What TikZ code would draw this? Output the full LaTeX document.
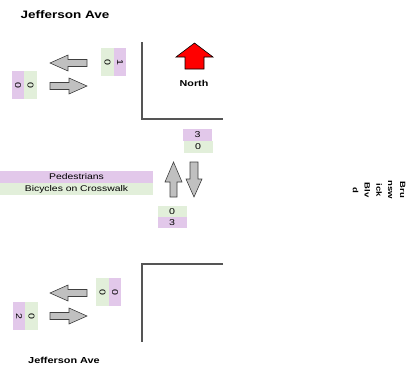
\documentclass[tikz,border=0pt]{standalone}
\usepackage{fontspec}
\setmainfont{Liberation Sans}[FakeStretch=1.25]
\definecolor{lpurple}{HTML}{E2C8EA}
\definecolor{lgreen}{HTML}{E2EFDA}
\definecolor{agray}{HTML}{C0C0C0}
\definecolor{lgray}{HTML}{555555}
\begin{document}
\begin{tikzpicture}[x=1pt,y=-1pt,
  garrow/.style={fill=agray,draw=black!75,line width=0.6pt,line join=miter},
  narrow/.style={fill=red,draw=black,line width=0.6pt},
  corner/.style={draw=lgray,line width=1.4pt},
  vbox/.style={rotate=-90,minimum width=28pt,minimum height=12.5pt,inner sep=0pt,font=\fontsize{8.5}{9}\selectfont},
  hbox/.style={minimum width=29pt,minimum height=11.5pt,inner sep=0pt,font=\fontsize{8.5}{9}\selectfont},
  pbox/.style={fill=lpurple},
  gbox/.style={fill=lgreen},
  wbox/.style={minimum width=153pt,minimum height=12pt,inner sep=0pt,font=\fontsize{8.3}{9}\selectfont},
  title/.style={font=\bfseries\fontsize{10.8}{12}\selectfont}]
\useasboundingbox (0,0) rectangle (409,370);
% titles
\node[title] (t1) at (65,15) {Jefferson Ave};
\node[font=\bfseries\fontsize{8.7}{10}\selectfont] (t2) at (64,360) {Jefferson Ave};
\node[font=\bfseries\fontsize{8.6}{10}\selectfont] (north) at (194,83) {North};
\node[rotate=-90,align=center,font=\bfseries\fontsize{7.6}{11.8}\selectfont] (brun) at (379,190) {Bru\\nsw\\ick\\Blv\\d};
% corners
\draw[corner] (142,42) -- (142,119) -- (223,119);
\draw[corner] (223,264) -- (142,264) -- (142,342);
% north arrow
\draw[narrow] (194.5,43) -- (213,57) -- (204,57) -- (204,69) -- (185,69) -- (185,57) -- (176,57) -- cycle;
% top-left arrows
\draw[garrow] (50,63) -- (68,55) -- (68,59.5) -- (87,59.5) -- (87,66.5) -- (68,66.5) -- (68,71) -- cycle;
\draw[garrow] (87,86) -- (69,78) -- (69,82.5) -- (50,82.5) -- (50,89.5) -- (69,89.5) -- (69,94) -- cycle;
% bottom-left arrows
\draw[garrow] (50,293) -- (68,285) -- (68,289.5) -- (87,289.5) -- (87,296.5) -- (68,296.5) -- (68,301) -- cycle;
\draw[garrow] (87,316) -- (69,308) -- (69,312.5) -- (50,312.5) -- (50,319.5) -- (69,319.5) -- (69,324) -- cycle;
% center arrows
\draw[garrow] (173.5,162) -- (182,182) -- (177,182) -- (177,197) -- (170,197) -- (170,182) -- (165,182) -- cycle;
\draw[garrow] (194,197) -- (202,179) -- (198,179) -- (198,162) -- (190,162) -- (190,179) -- (186,179) -- cycle;
% label boxes
\node[vbox,pbox] (a1) at (18,85) {0};
\node[vbox,gbox] (a2) at (30.5,85) {0};
\node[vbox,gbox] (b1) at (107.5,62) {0};
\node[vbox,pbox] (b2) at (120,62) {1};
\node[vbox,pbox] (c1) at (19,316) {2};
\node[vbox,gbox] (c2) at (31.5,316) {0};
\node[vbox,gbox] (d1) at (102.5,292) {0};
\node[vbox,pbox] (d2) at (115,292) {0};
\node[hbox,pbox] (e1) at (197.5,135) {3};
\node[hbox,gbox] (e2) at (198,147) {0};
\node[hbox,gbox] (f1) at (172,211.5) {0};
\node[hbox,pbox] (f2) at (172,222.5) {3};
% legend
\node[wbox,pbox] (ped) at (76.5,177) {Pedestrians};
\node[wbox,gbox] (bic) at (76.5,189) {Bicycles on Crosswalk};
\end{tikzpicture}
\end{document}
